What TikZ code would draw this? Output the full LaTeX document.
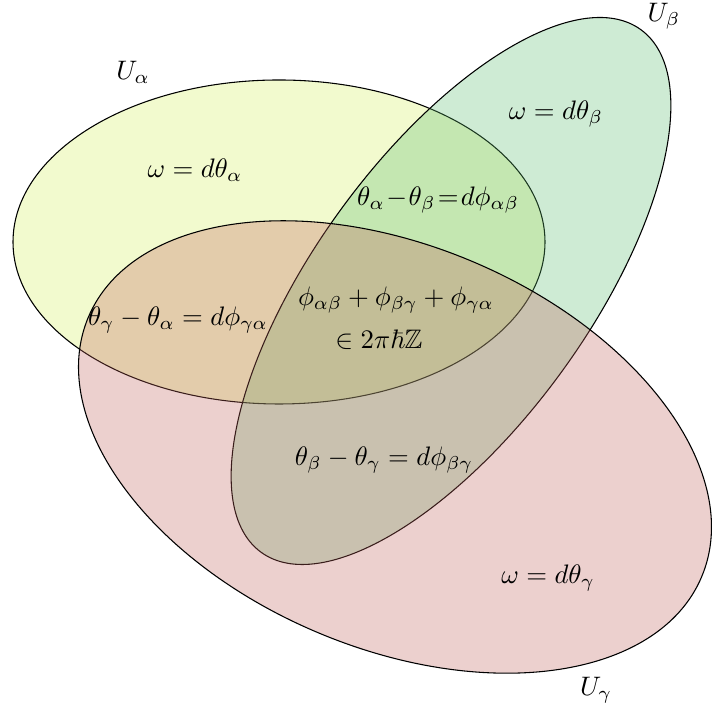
\documentclass[tikz,border=0pt]{standalone}
\usepackage{amsmath,amssymb}
\definecolor{ualpha}{RGB}{212,238,92}
\definecolor{ubeta}{RGB}{92,188,112}
\definecolor{ugamma}{RGB}{192,98,92}
\begin{document}
\begin{tikzpicture}[x=0.374pt,y=0.374pt,
  region/.style={draw=black,line width=0.4pt,fill opacity=0.3},
  lbl/.style={inner sep=0pt,text opacity=1}]
\useasboundingbox (0,0) rectangle (712,710);
% U_alpha
\draw[region,fill=ualpha] (279,468) ellipse [x radius=266, y radius=162];
% U_beta
\draw[region,fill=ubeta,rotate around={54:(451,419)}] (451,419) ellipse [x radius=323, y radius=137];
% U_gamma
\draw[region,fill=ugamma,rotate around={-23:(395,263)}] (395,263) ellipse [x radius=333, y radius=201];
% labels
\node[lbl] (la) at (133,638) {$U_\alpha$};
\node[lbl] (lb) at (664,694) {$U_\beta$};
\node[lbl] (lc) at (596,20) {$U_\gamma$};
\node[lbl] (wa) at (195,540) {$\omega = d\theta_\alpha$};
\node[lbl] (wb) at (556,596) {$\omega = d\theta_\beta$};
\node[lbl] (wc) at (548,132) {$\omega = d\theta_\gamma$};
\node[lbl] (ab) at (438,510) {\medmuskip=1mu\thickmuskip=1.5mu$\theta_\alpha - \theta_\beta = d\phi_{\alpha\beta}$};
\node[lbl] (ga) at (178,390) {$\theta_\gamma - \theta_\alpha = d\phi_{\gamma\alpha}$};
\node[lbl] (bg) at (384,250) {$\theta_\beta - \theta_\gamma = d\phi_{\beta\gamma}$};
\node[lbl] (tr1) at (396,410) {$\phi_{\alpha\beta} + \phi_{\beta\gamma} + \phi_{\gamma\alpha}$};
\node[lbl] (tr2) at (379,370) {$\in 2\pi\hbar\mathbb{Z}$};
\end{tikzpicture}
\end{document}
